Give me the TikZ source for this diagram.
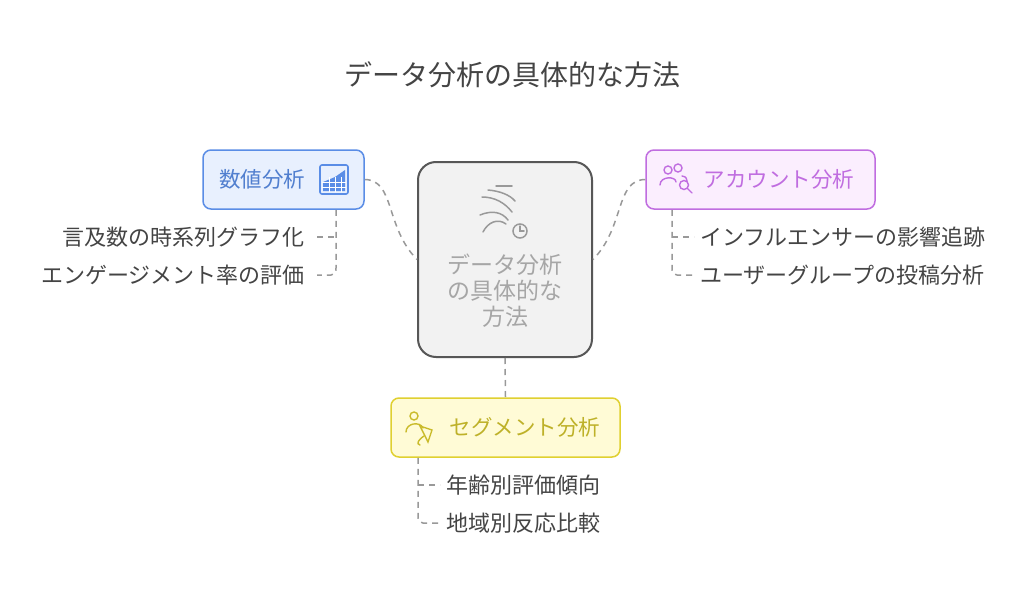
\documentclass[tikz,border=0pt]{standalone}
\usepackage{fontspec}
\setmainfont{Noto Sans CJK JP}
\usetikzlibrary{positioning}
\definecolor{bluedraw}{HTML}{5A8DE6}
\definecolor{bluefill}{HTML}{E8F0FE}
\definecolor{purpdraw}{HTML}{C06DE0}
\definecolor{purpfill}{HTML}{FBEEFE}
\definecolor{yeldraw}{HTML}{E0D030}
\definecolor{yelfill}{HTML}{FFFBD6}
\definecolor{txtgray}{HTML}{444444}
\definecolor{linegray}{HTML}{999999}
\tikzset{
  catbox/.style={rounded corners=8pt, line width=1.5pt, minimum height=59pt, inner sep=0pt},
  cattext/.style={font=\fontsize{21.5}{24}\selectfont},
  subtext/.style={font=\fontsize{22}{26}\selectfont, text=txtgray, inner sep=0pt},
  link/.style={linegray, line width=1.5pt, dash pattern=on 6pt off 5pt},
}
\begin{document}
\begin{tikzpicture}[x=1pt,y=-1pt]
    \useasboundingbox (0,0) rectangle (1024,594);
    \fill[white] (0,0) rectangle (1024,594);

    % Title
    \node[font=\fontsize{28}{32}\selectfont, text=txtgray] (title) at (512,75) {データ分析の具体的な方法};

    % Center box
    \node[draw=txtgray!90, fill=black!5, line width=2pt, rounded corners=18pt,
          minimum width=174pt, minimum height=195pt] (center) at (505,259.5) {};
    \node[font=\fontsize{23}{26}\selectfont, text=black!35, align=center] (ctext) at (505,291)
        {データ分析\\の具体的な\\方法};
    % center icon
    \begin{scope}[black!40, line width=1.5pt, line cap=round]
        \draw (482,197) .. controls (495,197) and (505,203) .. (512,212);
        \draw (488,190) .. controls (500,191) and (510,195) .. (515,201);
        \draw (496,186) -- (512,186);
        \draw (480,215) .. controls (492,210) and (502,212) .. (508,220);
        \draw (483,232) .. controls (488,222) and (498,218) .. (506,224);
        \draw (520,231) circle (7);
        \draw (520,226) -- (520,231) -- (524,231);
    \end{scope}

    % Numeric analysis
    \node[catbox, draw=bluedraw, fill=bluefill, minimum width=161pt] (num) at (283.5,179.5) {};
    \node[cattext, text=bluedraw!90!black] (numtext) at (262,179.5) {数値分析};
    \begin{scope}[bluedraw, line width=1.6pt]
        \draw[rounded corners=2pt] (320,165) rectangle (348,194);
        \fill (323,191) -- (323,182) -- (335,177) -- (345,170) -- (345,191) -- cycle;
        \foreach \gx in {329,335,341} \draw[white, line width=1pt] (\gx,177) -- (\gx,192);
        \foreach \gy in {182,187} \draw[white, line width=1pt] (322,\gy) -- (346,\gy);
    \end{scope}
    \node[subtext, anchor=east] (num1) at (305,237) {言及数の時系列グラフ化};
    \node[subtext, anchor=east] (num2) at (305,275) {エンゲージメント率の評価};
    \coordinate (numtrunk) at (336,209);
    \draw[link] (num.south -| numtrunk) -- (336,268) .. controls (336,273) .. (331,275) -- ([xshift=12pt]num2.east);
    \draw[link] ([xshift=12pt]num1.east) -- (336,237);

    % Account analysis
    \node[catbox, draw=purpdraw, fill=purpfill, minimum width=229pt] (acc) at (760.5,179.5) {};
    \node[cattext, text=purpdraw] (acctext) at (779,179.5) {アカウント分析};
    \begin{scope}[purpdraw, line width=1.4pt, line cap=round]
        \draw (668,170) circle (4);
        \draw (678,168) circle (4);
        \draw (660,185) .. controls (660,176) and (676,176) .. (676,182);
        \draw (682,176) .. controls (686,177) .. (687,181);
        \draw (684,185) circle (4.5);
        \draw (687,188) -- (692,193);
    \end{scope}
    \node[subtext, anchor=west] (acc1) at (700,237) {インフルエンサーの影響追跡};
    \node[subtext, anchor=west] (acc2) at (700,275) {ユーザーグループの投稿分析};
    \coordinate (acctrunk) at (672,209);
    \draw[link] (acc.south -| acctrunk) -- (672,268) .. controls (672,273) .. (677,275) -- ([xshift=-6pt]acc2.west);
    \draw[link] (672,237) -- ([xshift=-6pt]acc1.west);

    % Segment analysis
    \node[catbox, draw=yeldraw, fill=yelfill, minimum width=229pt] (seg) at (505.5,427.5) {};
    \node[cattext, text=yeldraw!85!black] (segtext) at (525,427.5) {セグメント分析};
    \begin{scope}[yeldraw!90!black, line width=1.4pt, line cap=round]
        \draw (414,416) circle (4);
        \draw (406,432) .. controls (406,423) and (420,421) .. (423,428);
        \draw (420,426) -- (432,430) -- (428,442) -- cycle;
        \draw (424,436) .. controls (418,440) and (416,444) .. (420,445);
    \end{scope}
    \node[subtext, anchor=west] (seg1) at (446,485) {年齢別評価傾向};
    \node[subtext, anchor=west] (seg2) at (446,523) {地域別反応比較};
    \coordinate (segtrunk) at (418,457);
    \draw[link] (seg.south -| segtrunk) -- (418,516) .. controls (418,521) .. (423,523) -- ([xshift=-6pt]seg2.west);
    \draw[link] (418,485) -- ([xshift=-6pt]seg1.west);

    % Links from center
    \draw[link] (num.east) .. controls (395,180) and (385,227) .. (center.west);
    \draw[link] (acc.west) .. controls (615,180) and (625,227) .. (center.east);
    \draw[link] (center.south) -- (seg.north);
\end{tikzpicture}
\end{document}
